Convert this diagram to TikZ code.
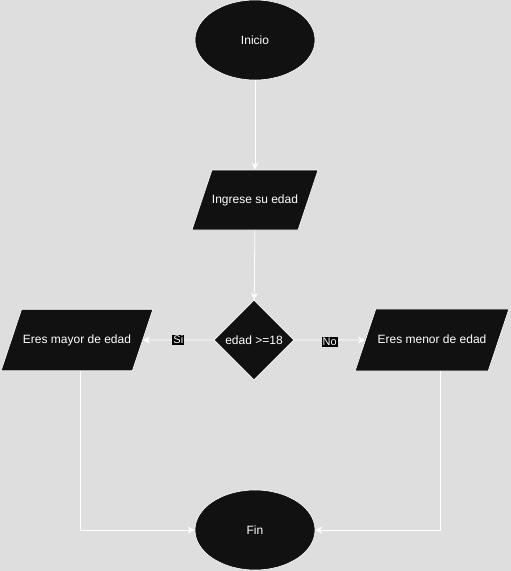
\documentclass[tikz,border=0pt]{standalone}
\usepackage{fontspec}
\setmainfont{Liberation Sans}
\usetikzlibrary{shapes.geometric,arrows.meta}
\definecolor{bgGray}{RGB}{222,222,222}
\definecolor{boxBlack}{RGB}{17,17,17}
\tikzset{
	block/.style={draw=white, line width=0.6pt, fill=boxBlack, text=white, inner sep=0pt, font=\fontsize{12}{14}\selectfont},
	terminal/.style={block, ellipse, minimum width=120pt, minimum height=80pt},
	datos/.style={block, trapezium, trapezium left angle=71.6, trapezium right angle=108.4, text height=9pt, text depth=3pt, inner ysep=24pt},
	decision/.style={block, diamond, minimum width=80pt, minimum height=80pt},
	conn/.style={draw=white, line width=0.8pt, -{Stealth[length=7pt,width=7pt,inset=2pt]}},
	etiqueta/.style={fill=black, text=white, inner sep=1pt, font=\fontsize{11}{12}\selectfont}
}

\begin{document}
\begin{tikzpicture}[x=1pt, y=-1pt]
		%%%%% START %%%%%
		
		\fill[bgGray] (0, 0) rectangle (511, 571);
		\useasboundingbox (0, 0) rectangle (511, 571);
		
		\node[terminal] (inicio) at (255, 40) {Inicio};
		\node[datos, minimum width=116pt] (ingreso) at (255, 200) {Ingrese su edad};
		\node[decision] (edad) at (254, 340) {edad >=18};
		
		\node[datos, minimum width=152pt] (mayor) at (77, 340) {Eres mayor de edad};
		\node[datos, minimum width=154pt] (menor) at (432, 340) {Eres menor de edad};
		
		\node[terminal] (fin) at (255, 530) {Fin};
		
		\draw[conn] (inicio) -- (ingreso);
		\draw[conn] (ingreso) -- (edad);
		
		\draw[conn] (edad) -- node[etiqueta] {Si} (mayor);
		\draw[conn] (edad) -- node[etiqueta, yshift=-2pt] {No} (menor);
		
		\draw[conn] ([xshift=3pt]mayor.south) |- (fin);
		\draw[conn] ([xshift=8pt]menor.south) |- (fin);
		
		%%%%% END %%%%%
	\end{tikzpicture}
\end{document}
